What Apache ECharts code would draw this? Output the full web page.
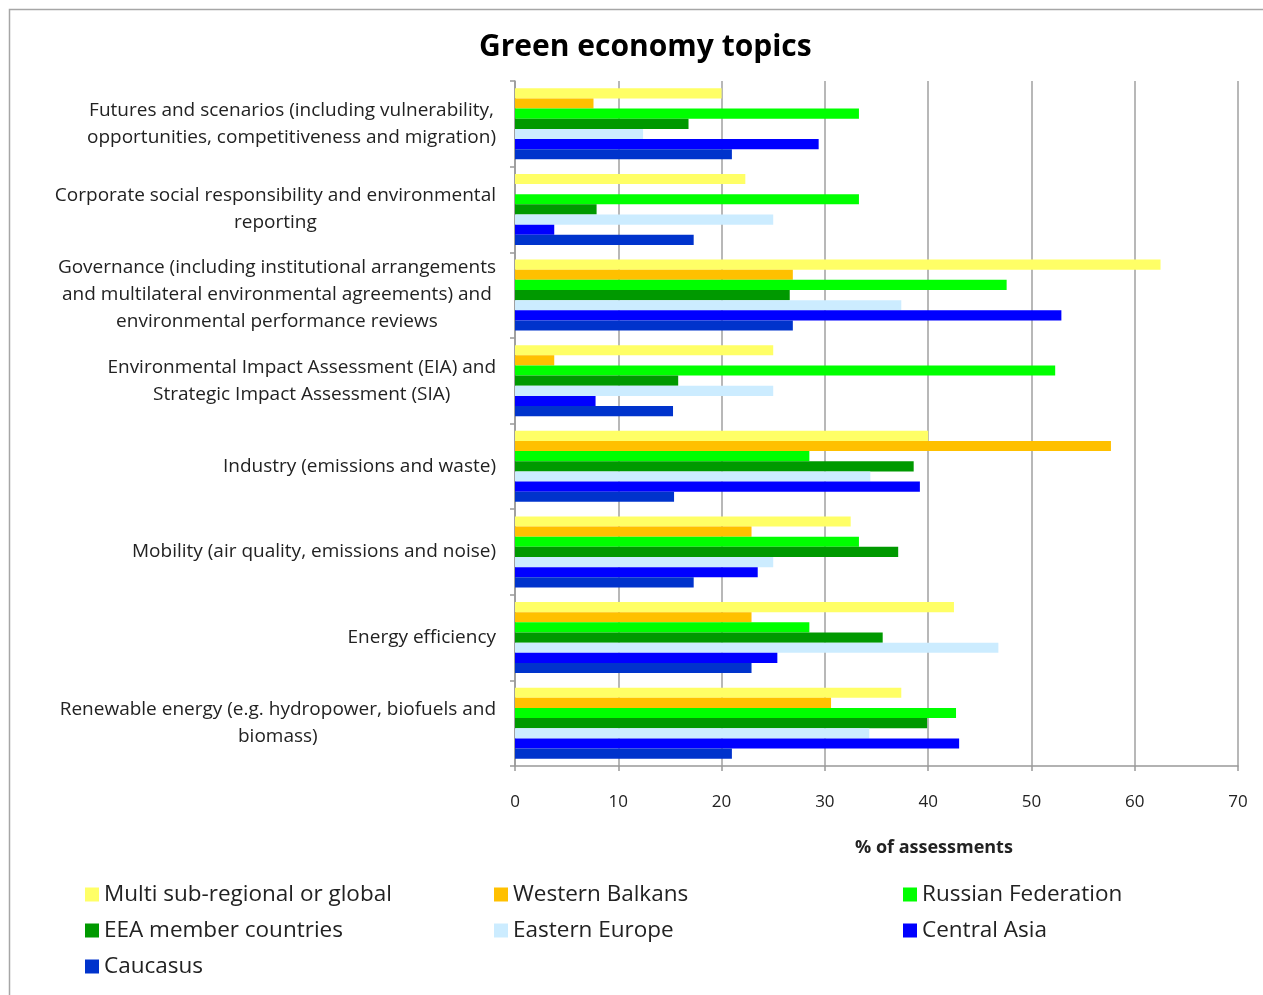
<!DOCTYPE html>
<html>
<head>
<meta charset="utf-8">
<script src="https://cdn.jsdelivr.net/npm/echarts@6/dist/echarts.min.js"></script>
<style>
  html, body { margin: 0; padding: 0; background: #fff; }
  #show { width: 1263px; height: 995px; }
</style>
</head>
<body>
<div id="show"></div>
<script>
var myChart = echarts.init(document.getElementById("show"));

// topics, top to bottom
var topics = [
    "Futures and scenarios (including vulnerability,\nopportunities, competitiveness and migration)",
    "Corporate social responsibility and environmental\nreporting",
    "Governance (including institutional arrangements\nand multilateral environmental agreements) and\nenvironmental performance reviews",
    "Environmental Impact Assessment (EIA) and\nStrategic Impact Assessment (SIA)",
    "Industry (emissions and waste)",
    "Mobility (air quality, emissions and noise)",
    "Energy efficiency",
    "Renewable energy (e.g. hydropower, biofuels and\nbiomass)"
];

var regions = [
    "Multi sub-regional or global",
    "Western Balkans",
    "Russian Federation",
    "EEA member countries",
    "Eastern Europe",
    "Central Asia",
    "Caucasus"
];

var colors = ["#FFFF66", "#FFC000", "#00FF00", "#009900", "#CCECFF", "#0000FF", "#0033CC"];

// % of assessments, one value per topic
var multiGlobal     = [20.0, 22.3, 62.5, 25.0, 40.0, 32.5, 42.5, 37.4];
var westernBalkans  = [7.6, 0, 26.9, 3.8, 57.7, 22.9, 22.9, 30.6];
var russianFed      = [33.3, 33.3, 47.6, 52.3, 28.5, 33.3, 28.5, 42.7];
var eeaMembers      = [16.8, 7.9, 26.6, 15.8, 38.6, 37.1, 35.6, 39.9];
var easternEurope   = [12.4, 25.0, 37.4, 25.0, 34.4, 25.0, 46.8, 34.3];
var centralAsia     = [29.4, 3.8, 52.9, 7.8, 39.2, 23.5, 25.4, 43.0];
var caucasus        = [21.0, 17.3, 26.9, 15.3, 15.4, 17.3, 22.9, 21.0];

var seriesData = [multiGlobal, westernBalkans, russianFed, eeaMembers, easternEurope, centralAsia, caucasus];

var xTicks = [0, 10, 20, 30, 40, 50, 60, 70];

var font = "'Open Sans', 'Liberation Sans', sans-serif";

var series = regions.map(function (name, i) {
    return {
        name: name,
        type: 'bar',
        data: seriesData[i],
        barGap: '0%',
        barCategoryGap: '17%',
        itemStyle: { color: colors[i] },
        emphasis: { disabled: true }
    };
});

function legendCol(left, names) {
    return {
        orient: 'vertical',
        left: left,
        top: 878,
        data: names,
        icon: 'rect',
        itemWidth: 14,
        itemHeight: 14,
        itemGap: 13,
        selectedMode: false,
        textStyle: { fontFamily: font, fontSize: 22.5, color: '#222', lineHeight: 23 }
    };
}

myChart.setOption(option = {
    animation: false,
    textStyle: { fontFamily: font },
    title: [
        {
            text: "Green economy topics",
            left: 474,
            top: 27,
            textStyle: { fontFamily: font, fontSize: 30, fontWeight: 'bold', color: '#000' }
        },
        {
            text: "% of assessments",
            left: 850,
            top: 834,
            textStyle: { fontFamily: font, fontSize: 18, fontWeight: 'bold', color: '#222' }
        }
    ],
    graphic: [
        {
            type: 'rect',
            shape: { x: 9.5, y: 9.5, width: 1300, height: 1100 },
            style: { fill: 'none', stroke: '#a6a6a6', lineWidth: 1.5 },
            silent: true
        }
    ],
    legend: [
        legendCol(80, [regions[0], regions[3], regions[6]]),
        legendCol(489, [regions[1], regions[4]]),
        legendCol(898, [regions[2], regions[5]])
    ],
    grid: {
        left: 515,
        right: 25,
        top: 81,
        bottom: 229,
        containLabel: false
    },
    xAxis: {
        type: 'value',
        min: xTicks[0],
        max: xTicks[xTicks.length - 1],
        interval: 10,
        axisLine: { show: true, lineStyle: { color: '#999', width: 1.5 } },
        axisTick: { show: true, length: 5, lineStyle: { color: '#999', width: 1.5 } },
        axisLabel: { margin: 28, fontSize: 17, color: '#222', fontFamily: font },
        splitLine: { show: true, lineStyle: { color: '#a0a0a0', width: 1.5 } }
    },
    yAxis: {
        type: 'category',
        inverse: true,
        data: topics,
        axisLine: { show: true, lineStyle: { color: '#999', width: 1.5 } },
        axisTick: { show: true, length: 5, lineStyle: { color: '#999', width: 1.5 } },
        axisLabel: {
            margin: 19,
            formatter: function (v) { return '{c|' + v + '}'; },
            rich: {
                c: { align: 'center', fontSize: 19, lineHeight: 27, color: '#222', fontFamily: font }
            }
        }
    },
    series: series
});
</script>
</body>
</html>
